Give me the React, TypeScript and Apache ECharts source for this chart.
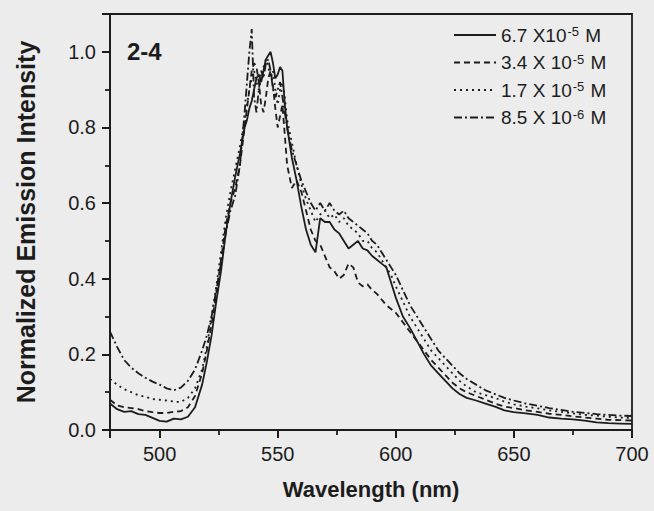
import React, { useEffect, useRef } from "react";
import * as echarts from "echarts";

const wavelength = [479, 482, 485, 488, 491, 494, 497, 500, 503, 506, 509, 512, 515, 518, 520, 522, 524, 526, 528, 530, 532, 534, 536, 537, 538, 539, 540, 541, 542, 543, 544, 545, 546, 547, 548, 549, 550, 551, 552, 553, 554, 556, 558, 560, 562, 564, 566, 568, 570, 572, 574, 576, 578, 580, 582, 584, 586, 588, 590, 592, 594, 596, 598, 600, 603, 606, 609, 612, 615, 618, 621, 624, 627, 630, 634, 638, 642, 646, 650, 655, 660, 665, 670, 675, 680, 685, 690, 695, 700];

const conc67e5 = [0.07, 0.055, 0.048, 0.05, 0.042, 0.04, 0.032, 0.024, 0.022, 0.03, 0.028, 0.035, 0.06, 0.12, 0.18, 0.25, 0.34, 0.42, 0.52, 0.6, 0.67, 0.73, 0.8, 0.82, 0.85, 0.87, 0.9, 0.93, 0.94, 0.92, 0.95, 0.98, 0.99, 1.0, 0.97, 0.93, 0.94, 0.96, 0.95, 0.86, 0.8, 0.72, 0.66, 0.59, 0.53, 0.49, 0.47, 0.56, 0.55, 0.55, 0.53, 0.52, 0.5, 0.48, 0.49, 0.5, 0.48, 0.475, 0.46, 0.45, 0.44, 0.43, 0.39, 0.35, 0.3, 0.27, 0.235, 0.2, 0.17, 0.15, 0.13, 0.11, 0.095, 0.085, 0.078, 0.07, 0.062, 0.052, 0.047, 0.044, 0.04, 0.033, 0.03, 0.028, 0.025, 0.02, 0.018, 0.017, 0.016];

const conc34e5 = [0.08, 0.065, 0.06, 0.058, 0.055, 0.05, 0.047, 0.045, 0.045, 0.048, 0.05, 0.06, 0.09, 0.15, 0.21, 0.28, 0.36, 0.45, 0.54, 0.6, 0.64, 0.7, 0.8, 0.85, 0.9, 0.95, 0.97, 0.96, 0.92, 0.86, 0.84, 0.88, 0.93, 0.95, 0.91, 0.85, 0.8, 0.83, 0.86, 0.78, 0.7, 0.64, 0.66, 0.63, 0.58, 0.53, 0.5, 0.49, 0.46, 0.43, 0.42, 0.4, 0.41, 0.44, 0.43, 0.39, 0.38, 0.385, 0.37, 0.36, 0.345, 0.33, 0.32, 0.31, 0.285, 0.26, 0.235, 0.21, 0.185, 0.165, 0.145, 0.125, 0.11, 0.1, 0.09, 0.08, 0.07, 0.062, 0.058, 0.052, 0.048, 0.043, 0.04, 0.036, 0.033, 0.03, 0.027, 0.026, 0.025];

const conc17e5 = [0.135, 0.12, 0.108, 0.1, 0.092, 0.088, 0.082, 0.08, 0.078, 0.075, 0.074, 0.085, 0.11, 0.16, 0.22, 0.3, 0.38, 0.47, 0.56, 0.63, 0.69, 0.75, 0.82, 0.86, 0.9, 0.93, 0.95, 0.92, 0.9, 0.93, 0.96, 0.98, 0.96, 0.93, 0.95, 0.9, 0.86, 0.9, 0.92, 0.88, 0.82, 0.76, 0.7, 0.65, 0.61, 0.58, 0.55, 0.57, 0.58, 0.56, 0.57, 0.55, 0.56, 0.54, 0.53, 0.52, 0.5, 0.5, 0.48, 0.47, 0.45, 0.43, 0.41, 0.38, 0.34, 0.3, 0.27, 0.24, 0.21, 0.19, 0.17, 0.15, 0.13, 0.115, 0.1, 0.092, 0.085, 0.075, 0.068, 0.062, 0.057, 0.052, 0.048, 0.044, 0.04, 0.038, 0.035, 0.033, 0.032];

const conc85e6 = [0.26, 0.22, 0.185, 0.165, 0.15, 0.138, 0.128, 0.12, 0.11, 0.105, 0.112, 0.13, 0.16, 0.21, 0.25, 0.3, 0.37, 0.44, 0.52, 0.58, 0.62, 0.7, 0.84, 0.92, 1.0, 1.06, 0.88, 0.84, 0.9, 0.95, 0.93, 0.97, 0.98, 0.95, 0.9, 0.88, 0.9, 0.92, 0.88, 0.84, 0.8, 0.74, 0.7, 0.66, 0.63, 0.6, 0.58, 0.6, 0.58, 0.6, 0.58, 0.57, 0.58, 0.56, 0.55, 0.54, 0.53, 0.52, 0.5, 0.49, 0.47, 0.45, 0.43, 0.41, 0.37, 0.33, 0.3, 0.27, 0.24, 0.21, 0.19, 0.17, 0.15, 0.135, 0.12, 0.105, 0.095, 0.085, 0.078, 0.07, 0.064, 0.058, 0.053, 0.048, 0.045, 0.042, 0.04, 0.038, 0.037];

const seriesNames = ["6.7 X10|-5| M", "3.4 X 10|-5| M", "1.7 X 10|-5| M", "8.5 X 10|-6| M"];

const X_MIN = 479;
const X_MAX = 700;
const Y_MIN = 0;
const Y_MAX = 1.1;

const INK = "#1c1c1c";
const FONT = "Liberation Sans, Arial, sans-serif";

export default function App() {
  const ref = useRef<HTMLDivElement>(null);
  useEffect(() => {
    if (!ref.current) return;
    const chart = echarts.init(ref.current, null, { renderer: "svg" });
    const values = [conc67e5, conc34e5, conc17e5, conc85e6];
    const dashes: any[] = ["solid", [6, 4], [2, 4], [8, 3, 2, 3]];
    const lineSeries = values.map((arr, k) => ({
      name: seriesNames[k],
      type: "line",
      showSymbol: false,
      symbol: "none",
      data: wavelength.map((w, i) => [w, arr[i]]),
      lineStyle: { color: INK, width: 1.8, type: dashes[k] },
      itemStyle: { color: INK },
    }));

    chart.setOption({
      animation: false,
      backgroundColor: "#ececec",
      textStyle: { fontFamily: FONT },
      grid: {
        left: 110,
        right: 22,
        top: 14,
        bottom: 81,
        show: true,
        borderColor: INK,
        borderWidth: 1.8,
        backgroundColor: "transparent",
      },
      legend: {
        orient: "vertical",
        left: 453,
        top: 25,
        padding: 0,
        itemWidth: 42,
        itemHeight: 12,
        itemGap: 8,
        selectedMode: false,
        data: seriesNames,
        itemStyle: { color: "transparent", borderWidth: 0, opacity: 0 },
        formatter: (name: string) => {
          const p = name.split("|");
          return `{t|${p[0]}}{s|${p[1]}}{t|${p[2]}}`;
        },
        textStyle: {
          color: INK,
          fontFamily: FONT,
          rich: {
            t: { fontSize: 19, color: INK, fontFamily: FONT, lineHeight: 20 },
            s: { fontSize: 13, color: INK, fontFamily: FONT, verticalAlign: "top", lineHeight: 12, padding: [0, 1, 0, 1] },
          },
        },
      },
      graphic: [
        {
          type: "text",
          left: 127,
          top: 39,
          style: { text: "2-4", font: `bold 24px ${FONT}`, fill: INK },
        },
      ],
      xAxis: {
        type: "value",
        min: X_MIN,
        max: X_MAX,
        splitNumber: 5,
        name: "Wavelength (nm)",
        nameLocation: "middle",
        nameGap: 48,
        nameTextStyle: { fontSize: 22, fontWeight: "bold", color: INK, fontFamily: FONT },
        axisLine: { show: true, onZero: false, lineStyle: { color: INK, width: 1.8 } },
        axisTick: { show: true, inside: false, length: 8, lineStyle: { color: INK, width: 2 } },
        minorTick: { show: true, splitNumber: 2, length: 5, lineStyle: { color: INK, width: 1.8 } },
        axisLabel: {
          showMinLabel: false,
          fontSize: 20,
          color: INK,
          margin: 14,
          fontFamily: FONT,
        },
        splitLine: { show: false },
        minorSplitLine: { show: false },
      },
      yAxis: {
        type: "value",
        min: Y_MIN,
        max: Y_MAX,
        splitNumber: 5,
        name: "Normalized Emission Intensity",
        nameLocation: "middle",
        nameGap: 72,
        nameTextStyle: { fontSize: 25, fontWeight: "bold", color: INK, fontFamily: FONT },
        axisLine: { show: true, onZero: false, lineStyle: { color: INK, width: 1.8 } },
        axisTick: { show: true, inside: false, length: 8, lineStyle: { color: INK, width: 2 } },
        minorTick: { show: true, splitNumber: 2, length: 5, lineStyle: { color: INK, width: 1.8 } },
        axisLabel: {
          showMaxLabel: false,
          formatter: (v: number) => v.toFixed(1),
          fontSize: 20,
          color: INK,
          margin: 14,
          fontFamily: FONT,
        },
        splitLine: { show: false },
        minorSplitLine: { show: false },
      },
      series: lineSeries,
    });

    return () => chart.dispose();
  }, []);
  return (
    <div
      ref={ref}
      style={{ position: "absolute", left: 0, top: 0, width: 654, height: 511, background: "#ececec" }}
    />
  );
}
